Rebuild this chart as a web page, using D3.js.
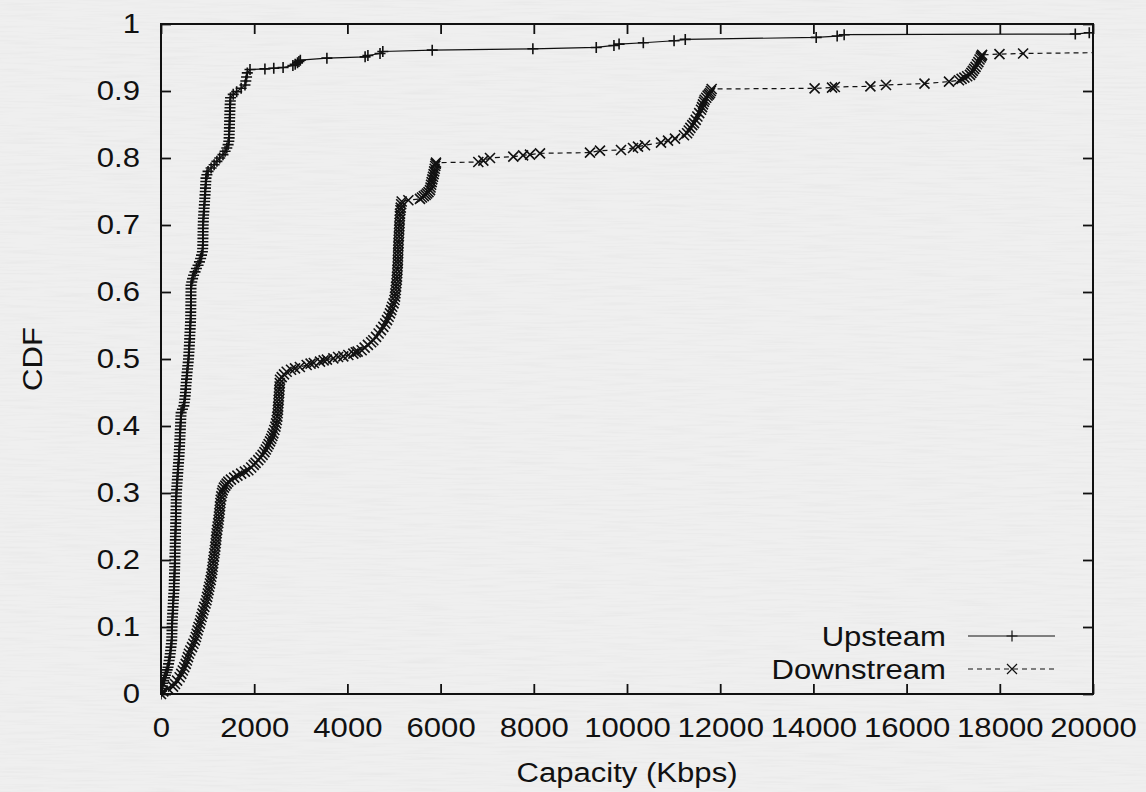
<!DOCTYPE html>
<html>
<head>
<meta charset="utf-8">
<script src="https://cdn.jsdelivr.net/npm/d3@7/dist/d3.min.js"></script>
<style>
  html, body { margin: 0; padding: 0; background: #ededed; }
  svg { display: block; }
  text { font-family: "Liberation Sans", Arial, Helvetica, sans-serif; fill: #111; }
</style>
</head>
<body>
<svg id="chart" width="1146" height="792"></svg>
<script>
// Measured link capacities: [Kbps, cumulative fraction]
const upstream = [
  [0,0],[8,0.004],[18,0.008],[28,0.012],[40,0.016],[58,0.020],[76,0.024],[95,0.028],[113,0.032],[132,0.036],
  [150,0.040],[162,0.045],[175,0.050],[188,0.055],[198,0.060],[206,0.065],[214,0.070],[222,0.075],[230,0.080],[232,0.085],
  [234,0.090],[236,0.095],[238,0.100],[240,0.105],[243,0.110],[246,0.115],[250,0.120],[254,0.125],[258,0.130],[262,0.135],
  [266,0.140],[270,0.145],[274,0.150],[280,0.155],[282,0.160],[284,0.165],[286,0.170],[288,0.175],[290,0.180],[292,0.185],
  [294,0.190],[295,0.195],[296,0.200],[298,0.205],[300,0.210],[302,0.215],[304,0.220],[306,0.225],[307,0.230],[309,0.235],
  [310,0.240],[312,0.245],[314,0.250],[315,0.255],[317,0.260],[318,0.265],[320,0.270],[322,0.275],[324,0.280],[325,0.285],
  [327,0.290],[328,0.295],[330,0.300],[335,0.305],[340,0.310],[345,0.315],[350,0.320],[355,0.325],[360,0.330],[365,0.335],
  [370,0.340],[376,0.345],[382,0.350],[387,0.355],[391,0.360],[394,0.365],[398,0.370],[401,0.375],[405,0.380],[408,0.385],
  [412,0.390],[415,0.395],[418,0.400],[421,0.405],[424,0.410],[428,0.415],[432,0.420],[460,0.425],[490,0.430],[500,0.435],
  [510,0.440],[518,0.445],[525,0.450],[530,0.455],[535,0.460],[541,0.465],[548,0.470],[554,0.475],[560,0.480],[568,0.485],
  [575,0.490],[583,0.495],[590,0.500],[595,0.505],[600,0.510],[604,0.515],[608,0.520],[612,0.525],[615,0.530],[618,0.535],
  [622,0.540],[626,0.545],[630,0.550],[633,0.555],[636,0.560],[637,0.565],[638,0.570],[639,0.575],[640,0.580],[641,0.585],
  [642,0.590],[642,0.595],[643,0.600],[644,0.605],[645,0.610],[660,0.615],[678,0.620],[700,0.625],[730,0.630],[760,0.635],
  [795,0.640],[825,0.645],[850,0.650],[870,0.655],[888,0.660],[895,0.665],[897,0.670],[898,0.675],[900,0.680],[901,0.685],
  [902,0.690],[904,0.695],[905,0.700],[908,0.705],[910,0.710],[915,0.715],[920,0.720],[925,0.725],[930,0.730],[935,0.735],
  [940,0.740],[945,0.745],[950,0.750],[954,0.755],[958,0.760],[962,0.765],[965,0.770],[985,0.775],[1010,0.780],[1075,0.785],
  [1140,0.790],[1200,0.795],[1260,0.800],[1330,0.805],[1375,0.810],[1412,0.815],[1440,0.820],[1455,0.825],[1462,0.830],[1464,0.835],
  [1466,0.840],[1468,0.845],[1470,0.850],[1472,0.855],[1474,0.860],[1476,0.865],[1478,0.870],[1481,0.875],[1484,0.880],[1488,0.885],
  [1492,0.890],[1550,0.895],[1624,0.899],[1720,0.904],[1802,0.909],[1820,0.915],[1836,0.921],[1852,0.927],[1910,0.932],[2230,0.933],
  [2420,0.934],[2620,0.935],[2830,0.938],[2880,0.940],[2930,0.942],[2960,0.944],[2990,0.946],[3560,0.949],[4380,0.951],[4440,0.953],
  [4700,0.956],[4760,0.959],[5820,0.961],[7980,0.963],[9340,0.965],[9720,0.968],[9830,0.970],[10350,0.972],[11010,0.975],[11250,0.977],
  [14060,0.980],[14510,0.982],[14660,0.984],[19620,0.985],[19920,0.987],[21500,0.989]
];

const downstream = [
  [0,0],[50,0.004],[150,0.008],[258,0.011],[300,0.015],[345,0.020],[400,0.025],[435,0.030],[468,0.035],[500,0.040],
  [530,0.045],[555,0.050],[578,0.055],[600,0.060],[630,0.065],[665,0.070],[695,0.075],[725,0.080],[748,0.085],[766,0.090],
  [785,0.095],[805,0.100],[833,0.105],[850,0.110],[870,0.115],[890,0.120],[910,0.125],[930,0.130],[955,0.135],[975,0.140],
  [990,0.145],[1005,0.150],[1020,0.155],[1035,0.160],[1050,0.165],[1065,0.170],[1078,0.175],[1090,0.180],[1100,0.185],[1109,0.190],
  [1118,0.195],[1127,0.200],[1137,0.205],[1147,0.210],[1157,0.215],[1166,0.220],[1174,0.225],[1182,0.230],[1189,0.235],[1195,0.240],
  [1205,0.245],[1215,0.250],[1228,0.255],[1236,0.260],[1244,0.265],[1252,0.270],[1260,0.275],[1266,0.280],[1274,0.285],[1281,0.290],
  [1295,0.295],[1310,0.300],[1324,0.304],[1350,0.308],[1380,0.311],[1410,0.314],[1445,0.317],[1500,0.320],[1570,0.323],[1640,0.326],
  [1720,0.329],[1800,0.332],[1874,0.334],[1935,0.338],[1990,0.342],[2030,0.345],[2088,0.349],[2135,0.353],[2180,0.357],[2220,0.361],
  [2250,0.365],[2281,0.369],[2310,0.373],[2340,0.377],[2365,0.381],[2388,0.385],[2410,0.389],[2432,0.394],[2455,0.399],[2470,0.404],
  [2484,0.409],[2496,0.414],[2503,0.419],[2510,0.424],[2515,0.429],[2520,0.434],[2525,0.439],[2530,0.444],[2535,0.449],[2540,0.454],
  [2545,0.459],[2549,0.464],[2554,0.469],[2590,0.473],[2640,0.477],[2697,0.481],[2790,0.484],[2876,0.486],[2980,0.488],[3126,0.491],
  [3210,0.493],[3280,0.494],[3412,0.496],[3490,0.498],[3560,0.499],[3698,0.501],[3800,0.503],[3912,0.504],[4020,0.506],[4127,0.508],
  [4180,0.510],[4220,0.511],[4306,0.513],[4370,0.517],[4440,0.521],[4510,0.525],[4556,0.528],[4615,0.533],[4670,0.538],[4720,0.543],
  [4771,0.548],[4812,0.553],[4850,0.558],[4884,0.563],[4914,0.568],[4940,0.573],[4960,0.578],[4990,0.583],[5010,0.588],[5022,0.593],
  [5030,0.598],[5038,0.603],[5045,0.608],[5052,0.613],[5060,0.618],[5065,0.623],[5070,0.628],[5074,0.633],[5078,0.638],[5081,0.643],
  [5084,0.648],[5087,0.653],[5089,0.658],[5091,0.663],[5093,0.668],[5097,0.673],[5100,0.678],[5104,0.683],[5108,0.688],[5112,0.693],
  [5115,0.698],[5119,0.703],[5122,0.708],[5126,0.713],[5129,0.717],[5138,0.722],[5145,0.726],[5155,0.731],[5165,0.735],[5308,0.737],
  [5558,0.739],[5600,0.741],[5640,0.743],[5680,0.745],[5710,0.747],[5740,0.749],[5772,0.752],[5784,0.756],[5796,0.760],[5808,0.764],
  [5822,0.768],[5836,0.772],[5850,0.776],[5862,0.780],[5874,0.784],[5885,0.788],[5894,0.791],[5901,0.793],[6809,0.794],[6917,0.796],
  [7060,0.800],[7560,0.802],[7770,0.804],[7918,0.805],[8133,0.807],[9206,0.808],[9420,0.811],[9871,0.812],[10129,0.815],[10236,0.817],
  [10386,0.819],[10730,0.823],[10880,0.826],[11030,0.829],[11223,0.834],[11290,0.837],[11325,0.841],[11360,0.845],[11400,0.849],[11438,0.852],
  [11475,0.857],[11510,0.862],[11550,0.867],[11588,0.872],[11610,0.876],[11630,0.880],[11650,0.884],[11667,0.887],[11700,0.890],[11730,0.893],
  [11760,0.895],[11781,0.897],[11800,0.900],[11817,0.903],[14026,0.904],[14400,0.905],[14460,0.906],[15223,0.907],[15558,0.909],[16384,0.911],
  [16910,0.914],[17124,0.916],[17180,0.918],[17240,0.920],[17300,0.922],[17360,0.924],[17390,0.927],[17420,0.930],[17450,0.933],[17480,0.936],
  [17510,0.940],[17540,0.943],[17565,0.947],[17590,0.950],[17605,0.952],[17620,0.954],[17993,0.955],[18500,0.956],[21000,0.958]
];

const seriesNames = ["Upsteam", "Downstream"];
const xTickValues = [0,2000,4000,6000,8000,10000,12000,14000,16000,18000,20000];
const xTickLabels = ["0","2000","4000","6000","8000","10000","12000","14000","16000","18000","20000"];
const yTickValues = [0,0.1,0.2,0.3,0.4,0.5,0.6,0.7,0.8,0.9,1];
const yTickLabels = ["0","0.1","0.2","0.3","0.4","0.5","0.6","0.7","0.8","0.9","1"];
const xTitle = "Capacity (Kbps)";
const yTitle = "CDF";

// Layout
const W = 1146, H = 792;
const plot = { left: 161, right: 1093, top: 24, bottom: 694 };
const FONT = 28, STRETCH = 1.11;

const svg = d3.select("#chart");
const defs = svg.append("defs");

// Faint paper grain for the page background
const grain = defs.append("filter").attr("id", "grain")
  .attr("x", 0).attr("y", 0).attr("width", "100%").attr("height", "100%");
grain.append("feTurbulence")
  .attr("type", "fractalNoise").attr("baseFrequency", "0.02 0.45")
  .attr("numOctaves", 2).attr("seed", 7).attr("result", "noise");
grain.append("feColorMatrix").attr("in", "noise").attr("type", "matrix")
  .attr("values", "0 0 0 0 0  0 0 0 0 0  0 0 0 0 0  0.5 0 0 0 -0.2");

svg.append("rect").attr("width", W).attr("height", H).attr("fill", "#efefef");
svg.append("rect").attr("width", W).attr("height", H).attr("filter", "url(#grain)").attr("opacity", 0.1);

const x = d3.scaleLinear().domain([0, 20000]).range([plot.left, plot.right]);
const y = d3.scaleLinear().domain([0, 1]).range([plot.bottom, plot.top]);

defs.append("clipPath").attr("id", "plotClip")
  .append("rect")
  .attr("x", plot.left).attr("y", plot.top - 6)
  .attr("width", plot.right - plot.left).attr("height", plot.bottom - plot.top + 12);

// Axes: inward ticks on all four sides
const fmtX = d => xTickLabels[xTickValues.indexOf(d)];
const fmtY = d => yTickLabels[yTickValues.indexOf(d)];

function styleAxis(g) {
  g.select(".domain").remove();
  g.selectAll(".tick line").attr("stroke", "#111").attr("stroke-width", 1.8);
  g.selectAll(".tick text")
    .attr("font-size", FONT)
    .attr("fill", "#111")
    .attr("transform", `scale(${STRETCH},1)`);
}

svg.append("g").attr("transform", `translate(0,${plot.bottom})`)
  .call(d3.axisBottom(x).tickValues(xTickValues).tickFormat(fmtX).tickSizeInner(-10).tickSizeOuter(0).tickPadding(23))
  .call(styleAxis);
svg.append("g").attr("transform", `translate(0,${plot.top})`)
  .call(d3.axisTop(x).tickValues(xTickValues).tickFormat("").tickSizeInner(-10).tickSizeOuter(0))
  .call(styleAxis);
svg.append("g").attr("transform", `translate(${plot.left},0)`)
  .call(d3.axisLeft(y).tickValues(yTickValues).tickFormat(fmtY).tickSizeInner(-10).tickSizeOuter(0).tickPadding(19))
  .call(styleAxis);
svg.append("g").attr("transform", `translate(${plot.right},0)`)
  .call(d3.axisRight(y).tickValues(yTickValues).tickFormat("").tickSizeInner(-10).tickSizeOuter(0))
  .call(styleAxis);

// Frame
svg.append("rect")
  .attr("x", plot.left).attr("y", plot.top)
  .attr("width", plot.right - plot.left).attr("height", plot.bottom - plot.top)
  .attr("fill", "none").attr("stroke", "#111").attr("stroke-width", 2);

// Axis titles
svg.append("g").attr("transform", `translate(${(plot.left + plot.right) / 2},782) scale(${STRETCH},1)`)
  .append("text").attr("text-anchor", "middle").attr("font-size", FONT).text(xTitle);
svg.append("g").attr("transform", `translate(42,${(plot.top + plot.bottom) / 2}) rotate(-90) scale(${STRETCH},1)`)
  .append("text").attr("text-anchor", "middle").attr("font-size", FONT).text(yTitle);

// Series
const plusPath = "M-5.5,0H5.5M0,-5.5V5.5";
const crossPath = "M-5,-5L5,5M-5,5L5,-5";
const series = [
  { name: seriesNames[0], pts: upstream, dash: null, marker: plusPath },
  { name: seriesNames[1], pts: downstream, dash: "5,4", marker: crossPath }
];

const line = d3.line().x(d => x(d[0])).y(d => y(d[1]));
const layer = svg.append("g").attr("clip-path", "url(#plotClip)");

series.forEach(s => {
  layer.append("path").datum(s.pts)
    .attr("d", line)
    .attr("fill", "none").attr("stroke", "#111").attr("stroke-width", 1.2)
    .attr("stroke-dasharray", s.dash);
  layer.selectAll(null).data(s.pts).enter().append("path")
    .attr("d", s.marker)
    .attr("transform", d => `translate(${x(d[0])},${y(d[1])})`)
    .attr("fill", "none").attr("stroke", "#111").attr("stroke-width", 1.6);
});

// Legend
const legend = svg.append("g");
const legendRows = [636, 669];
series.forEach((s, i) => {
  const ly = legendRows[i];
  legend.append("g").attr("transform", `translate(946,${ly + 10}) scale(${STRETCH},1)`)
    .append("text").attr("text-anchor", "end").attr("font-size", FONT).text(s.name);
  legend.append("line")
    .attr("x1", 968).attr("x2", 1055).attr("y1", ly).attr("y2", ly)
    .attr("stroke", "#111").attr("stroke-width", 1.2)
    .attr("stroke-dasharray", s.dash);
  legend.append("path").attr("d", s.marker)
    .attr("transform", `translate(1012,${ly})`)
    .attr("fill", "none").attr("stroke", "#111").attr("stroke-width", 1.2);
});
</script>
</body>
</html>
